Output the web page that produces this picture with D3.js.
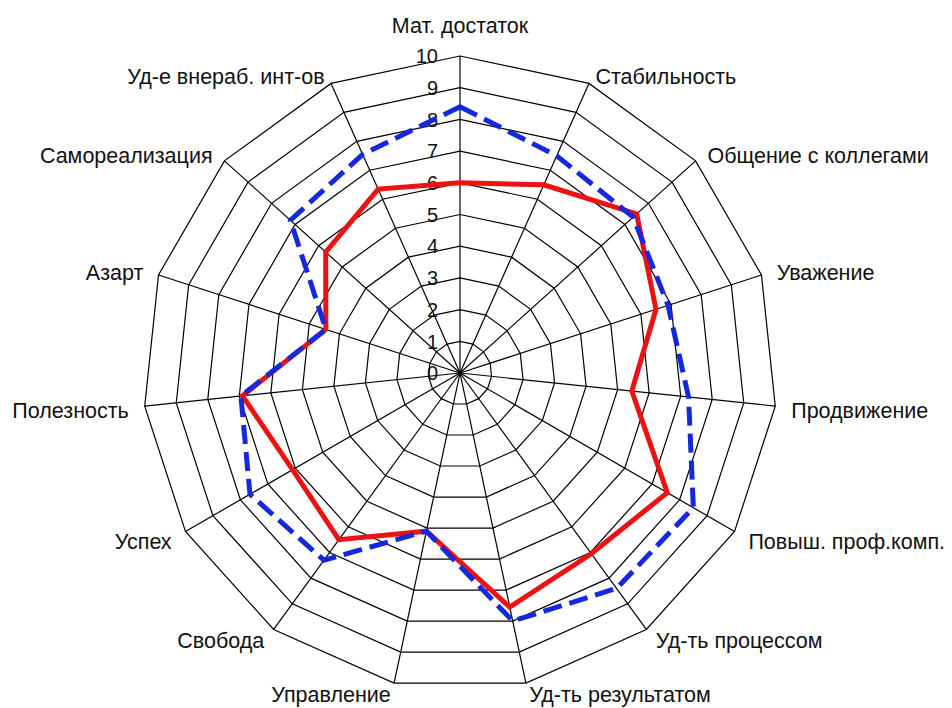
<!DOCTYPE html>
<html>
<head>
<meta charset="utf-8">
<script src="https://cdn.jsdelivr.net/npm/d3@7/dist/d3.min.js"></script>
<style>
    body { margin: 0; background: #fff; }
    svg { display: block; font-family: "Liberation Sans", Arial, sans-serif; }
</style>
</head>
<body>
<div id="chart"></div>
<script>
/**
 * Axis names, clockwise from the top.
 * @type Array
 */
var CATEGORIES = [
    'Мат. достаток', 'Стабильность', 'Общение с коллегами', 'Уважение',
    'Продвижение', 'Повыш. проф.комп.', 'Уд-ть процессом', 'Уд-ть результатом',
    'Управление', 'Свобода', 'Успех', 'Полезность', 'Азарт',
    'Самореализация', 'Уд-е внераб. инт-ов'
];
/**
 * Solid red series.
 * @type Array
 */
var SERIES_RED = [6, 6.5, 7.5, 6.5, 5.45, 7.55, 7.05, 7.55, 5.1, 6.5, 6.1, 6.9, 4.45, 5.7, 6.35];
/**
 * Dashed blue series.
 * @type Array
 */
var SERIES_BLUE = [8.4, 7.5, 7.35, 6.9, 7.25, 8.5, 8.4, 8.0, 5.1, 7.3, 7.65, 6.95, 4.45, 7.2, 7.55];
/**
 * Tick values on the radial axis.
 * @type Array
 */
var TICKS = [0, 1, 2, 3, 4, 5, 6, 7, 8, 9, 10];

var WIDTH = 952, HEIGHT = 708;
var CX = 460, CY = 373, RADIUS = 317;

var svg = d3.select('#chart').append('svg')
    .attr('width', WIDTH)
    .attr('height', HEIGHT);

var g = svg.append('g')
    .attr('transform', 'translate(' + CX + ',' + CY + ')');

var r = d3.scaleLinear().domain([0, 10]).range([0, RADIUS]);
var angle = d3.scaleLinear()
    .domain([0, CATEGORIES.length])
    .range([0, 2 * Math.PI]);

var ring = d3.lineRadial()
    .angle(function(d, i) { return angle(i); })
    .radius(function(d) { return r(d); })
    .curve(d3.curveLinearClosed);

// grid rings
g.selectAll('path.ring')
    .data(TICKS.slice(1))
    .enter().append('path')
    .attr('class', 'ring')
    .attr('d', function(t) { return ring(CATEGORIES.map(function() { return t; })); })
    .attr('fill', 'none')
    .attr('stroke', '#000')
    .attr('stroke-width', 1.2);

// spokes
g.selectAll('line.spoke')
    .data(CATEGORIES)
    .enter().append('line')
    .attr('class', 'spoke')
    .attr('x1', 0).attr('y1', 0)
    .attr('x2', function(d, i) { return r(10) * Math.sin(angle(i)); })
    .attr('y2', function(d, i) { return -r(10) * Math.cos(angle(i)); })
    .attr('stroke', '#000')
    .attr('stroke-width', 1.2);

// tick labels along the top spoke
g.selectAll('text.tick')
    .data(TICKS)
    .enter().append('text')
    .attr('class', 'tick')
    .attr('x', -22)
    .attr('y', function(t) { return -r(t); })
    .attr('dy', '0.36em')
    .attr('text-anchor', 'end')
    .attr('font-size', 20)
    .attr('fill', '#111')
    .text(function(t) { return t; });

// category labels
g.selectAll('text.cat')
    .data(CATEGORIES)
    .enter().append('text')
    .attr('class', 'cat')
    .attr('x', function(d, i) {
        var a = angle(i);
        return (r(10) + 16) * Math.sin(a);
    })
    .attr('y', function(d, i) {
        var c = Math.cos(angle(i));
        var off;
        if (c > 0.99) off = -31;
        else if (c > 0) off = -8 * c;
        else off = Math.min(-14 * c + 3, 11);
        return -r(10) * c + off;
    })
    .attr('dy', '0.35em')
    .attr('text-anchor', function(d, i) {
        var s = Math.sin(angle(i));
        return s > 0.01 ? 'start' : (s < -0.01 ? 'end' : 'middle');
    })
    .attr('font-size', 21.5)
    .attr('fill', '#111')
    .text(function(d) { return d; });

// series
g.append('path')
    .attr('d', ring(SERIES_RED))
    .attr('fill', 'none')
    .attr('stroke', '#ee1111')
    .attr('stroke-width', 5);

g.append('path')
    .attr('d', ring(SERIES_BLUE))
    .attr('fill', 'none')
    .attr('stroke', '#1428e0')
    .attr('stroke-width', 5)
    .attr('stroke-dasharray', '19,8');
</script>
</body>
</html>
